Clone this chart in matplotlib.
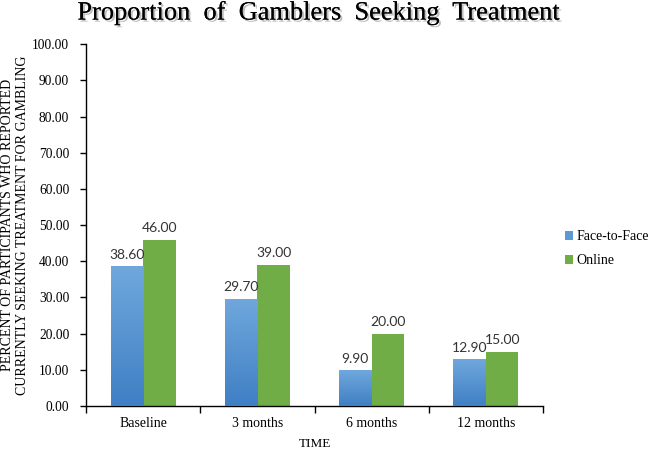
import matplotlib
matplotlib.use("Agg")
import matplotlib.pyplot as plt
import matplotlib.patheffects as pe
import numpy as np
from matplotlib.colors import LinearSegmentedColormap

categories = ["Baseline", "3 months", "6 months", "12 months"]
face_to_face = [38.60, 29.70, 9.90, 12.90]
online = [46.00, 39.00, 20.00, 15.00]
series_names = ["Face-to-Face", "Online"]
yticks = [0, 10, 20, 30, 40, 50, 60, 70, 80, 90, 100]

fig = plt.figure(figsize=(6.52, 4.5), dpi=100)
ax = fig.add_axes([0.1319, 0.0978, 0.701, 0.804])

x = np.arange(len(categories))
w = 0.285
b1 = ax.bar(x - w / 2, face_to_face, w, color="#5b9bd5", label=series_names[0], zorder=2)
b2 = ax.bar(x + w / 2, online, w, color="#70ad47", label=series_names[1], zorder=2)

# gradient fill for blue bars
cmap = LinearSegmentedColormap.from_list("bg", ["#3f7fc4", "#70a8dd"])
grad = np.linspace(0, 1, 256).reshape(-1, 1)
for r in b1:
    x0, y0 = r.get_x(), r.get_y()
    im = ax.imshow(grad, extent=[x0, x0 + r.get_width(), y0, y0 + r.get_height()],
                   origin="lower", cmap=cmap, aspect="auto", zorder=3)
    im.set_clip_path(r)

ax.set_xlim(-0.5, len(categories) - 0.5)
ax.set_ylim(0, 100)
ax.set_yticks(yticks)
ax.set_yticklabels([f"{v:.2f}" for v in yticks], fontfamily="Liberation Serif", fontsize=9.75)
ax.set_xticks(x)
ax.set_xticklabels(categories, fontfamily="Liberation Serif", fontsize=10)
ax.tick_params(axis="x", length=0, pad=8)
ax.tick_params(axis="y", length=4, direction="out", width=1, pad=8)
ax.set_xticks(np.arange(len(categories) + 1) - 0.5, minor=True)
ax.tick_params(axis="x", which="minor", length=5, direction="out", width=1)

for s in ["top", "right"]:
    ax.spines[s].set_visible(False)
for s in ["left", "bottom"]:
    ax.spines[s].set_linewidth(1)
    ax.spines[s].set_color("black")

for bars, vals in ((b1, face_to_face), (b2, online)):
    for r, v in zip(bars, vals):
        ax.annotate(f"{v:.2f}", (r.get_x() + r.get_width() / 2, v), xytext=(0, 4),
                    textcoords="offset points", ha="center", va="bottom",
                    fontfamily="Lato", fontsize=10, color="#333333")

ax.set_xlabel("TIME", fontfamily="Liberation Serif", fontsize=9.5, labelpad=6)
ax.set_ylabel("PERCENT OF PARTICIPANTS WHO REPORTED\nCURRENTLY SEEKING TREATMENT FOR GAMBLING",
              fontfamily="Liberation Serif", fontsize=10, labelpad=2, linespacing=1.2)

fig.text(0.489, 0.971, "Proportion  of  Gamblers  Seeking  Treatment", ha="center", va="center",
         fontfamily="Liberation Serif", fontsize=19,
         path_effects=[pe.withSimplePatchShadow(offset=(1.5, -1.5), alpha=0.25), pe.Normal()])

leg = fig.legend(handles=[b1, b2], labels=series_names, loc="center left",
                 bbox_to_anchor=(0.866, 0.447), frameon=False,
                 prop={"family": "Liberation Serif", "size": 10}, handlelength=0.6,
                 handleheight=0.6, handletextpad=0.25, labelspacing=0.8, borderpad=0.0,
                 borderaxespad=0.0)

fig.savefig("out.png", dpi=100)
